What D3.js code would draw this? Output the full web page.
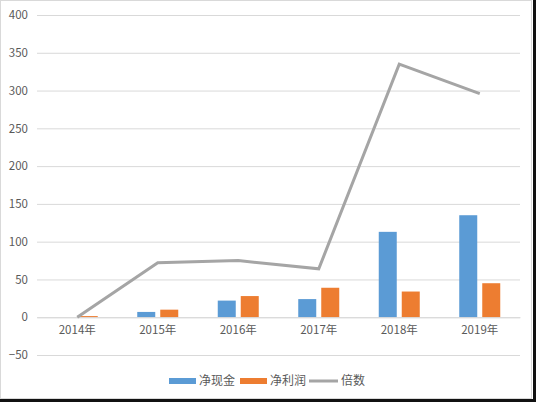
<!DOCTYPE html>
<html><head><meta charset="utf-8">
<script src="https://cdn.jsdelivr.net/npm/d3@7"></script>
<style>
html,body{margin:0;padding:0;background:#fff;}
svg{display:block;}
text{font-family:"Noto Sans CJK SC","Noto Sans",sans-serif;}
</style></head>
<body><svg id="c" width="536" height="402"></svg>
<script>
const categories = ["2014年","2015年","2016年","2017年","2018年","2019年"];
const netCash = [0, 7, 22, 24, 113, 135];
const netProfit = [1.5, 10, 28, 39, 34, 45];
const multiple = [0, 72, 75, 64, 335, 296];
const yTicks = [-50, 0, 50, 100, 150, 200, 250, 300, 350, 400];
const seriesNames = ["净现金","净利润","倍数"];
const colors = ["#5B9BD5","#ED7D31","#A5A5A5"];

(function(){
const svg = d3.select("#c");
// chart frame
svg.append("rect").attr("x",0.5).attr("y",0.5).attr("width",531).attr("height",398)
  .attr("fill","#fff").attr("stroke","#d9d9d9");
svg.append("rect").attr("x",533).attr("y",0).attr("width",3).attr("height",402).attr("fill","#111");
svg.append("rect").attr("x",0).attr("y",399).attr("width",536).attr("height",3).attr("fill","#111");

const mLeft = 37, mRight = 520, mTop = 15, mBottom = 355;
const x = d3.scaleBand().domain(categories).range([mLeft, mRight]);
const y = d3.scaleLinear().domain([-50, 400]).range([mBottom, mTop]);

// gridlines
const yAxis = d3.axisLeft(y).tickValues(yTicks).tickSize(-(mRight-mLeft)).tickPadding(9);
const gy = svg.append("g").attr("transform",`translate(${mLeft},0)`).call(yAxis);
gy.select(".domain").remove();
gy.selectAll(".tick line").attr("stroke","#d9d9d9").attr("stroke-width",1);
gy.selectAll(".tick text").attr("fill","#595959").attr("font-size",11.5);

// bars
const bw = 18, gap = 5;
const bars = svg.append("g");
[netCash, netProfit].forEach((vals, si) => {
  bars.selectAll(null).data(vals).enter().append("rect")
    .attr("x",(d,i)=> x(categories[i]) + x.bandwidth()/2 + (si===0 ? -(bw+gap/2) : gap/2))
    .attr("width",bw)
    .attr("y",d=>y(Math.max(0,d)))
    .attr("height",d=>Math.abs(y(d)-y(0)))
    .attr("fill",colors[si]);
});

// category axis
const xAxis = d3.axisBottom(x).tickSize(0).tickPadding(9);
const gx = svg.append("g").attr("transform",`translate(0,${y(0)})`).call(xAxis);
gx.select(".domain").attr("stroke","#d9d9d9");
gx.selectAll(".tick text").attr("fill","#595959").attr("font-size",11.5);

// line
const line = d3.line().x((d,i)=>x(categories[i])+x.bandwidth()/2).y(d=>y(d));
svg.append("path").datum(multiple).attr("d",line).attr("fill","none")
  .attr("stroke",colors[2]).attr("stroke-width",3).attr("stroke-linejoin","miter");

// legend
const lg = svg.append("g").attr("font-size",12);
const legendItems = [
  {x:169, type:"rect"},
  {x:240, type:"rect"},
  {x:309, type:"line"}
];
const ly = 381;
legendItems.forEach((it, i) => {
  if (it.type === "rect") {
    lg.append("rect").attr("x",it.x).attr("y",ly-3).attr("width",27).attr("height",6).attr("fill",colors[i]);
  } else {
    lg.append("line").attr("x1",it.x).attr("x2",it.x+29).attr("y1",ly).attr("y2",ly)
      .attr("stroke",colors[i]).attr("stroke-width",3);
  }
  lg.append("text").attr("x",it.x + (it.type==="rect"?30:32)).attr("y",ly).attr("dy","0.35em")
    .attr("fill","#595959").text(seriesNames[i]);
});
})();
</script></body></html>
